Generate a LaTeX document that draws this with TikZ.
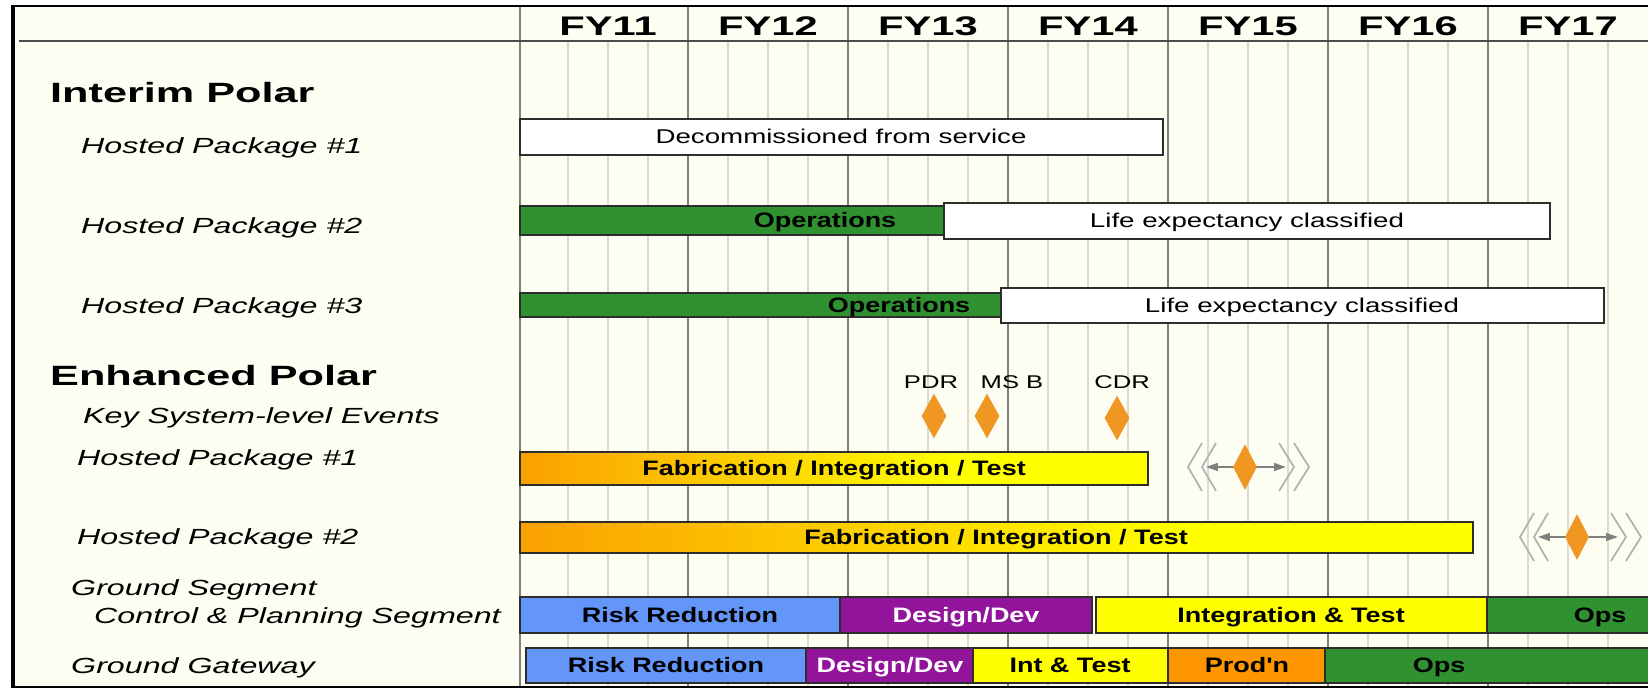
\documentclass[tikz,border=0pt]{standalone}
\usepackage{fontspec}
\setmainfont{Liberation Sans}
\newfontfamily\headfont{Liberation Sans}[FakeStretch=1.55]
\newfontfamily\rowfont{Liberation Sans}[FakeStretch=1.47]
\newfontfamily\barfont{Liberation Sans}[FakeStretch=1.29]
\newfontfamily\plainfont{Liberation Sans}[FakeStretch=1.39]
\usepackage{tikz}
\usetikzlibrary{arrows.meta,shapes.geometric}
\definecolor{chartbg}{RGB}{253,253,241}
\definecolor{gridmajor}{RGB}{128,128,118}
\definecolor{gridminor}{RGB}{220,220,206}
\definecolor{barframe}{RGB}{45,45,45}
\definecolor{opsgreen}{RGB}{48,145,48}
\definecolor{riskblue}{RGB}{100,150,250}
\definecolor{devpurple}{RGB}{145,20,155}
\definecolor{testyellow}{RGB}{255,255,0}
\definecolor{prodorange}{RGB}{255,150,0}
\definecolor{faborange}{RGB}{250,160,0}
\definecolor{mileorange}{RGB}{240,150,35}
\definecolor{slipgray}{RGB}{150,150,150}
\pgfdeclarehorizontalshading{fabshade}{100bp}{color(0bp)=(faborange); color(25bp)=(faborange);
  color(60bp)=(testyellow); color(100bp)=(testyellow)}
\tikzset{
  gbar/.style   ={draw=barframe, line width=1.4pt},
  gwhite/.style ={gbar, fill=white},
  gops/.style   ={gbar, fill=opsgreen},
  grisk/.style  ={gbar, fill=riskblue},
  gdev/.style   ={gbar, fill=devpurple},
  gtest/.style  ={gbar, fill=testyellow},
  gprod/.style  ={gbar, fill=prodorange},
  gfab/.style   ={gbar, shading=fabshade},
  gmajor/.style ={gridmajor, line width=1.6pt},
  gminor/.style ={gridminor, line width=1.2pt},
  headrule/.style={black!70, line width=1.8pt},
  chartframe/.style={black, line width=2.6pt},
  bartext/.style ={font=\barfont\bfseries\fontsize{21}{24}\selectfont, inner sep=0pt,
                   text height=15pt, text depth=0pt},
  devtext/.style ={bartext, text=white},
  plaintext/.style={font=\plainfont\fontsize{20}{24}\selectfont, inner sep=0pt,
                   text height=14pt, text depth=0pt},
  miletext/.style={font=\plainfont\fontsize{18.5}{22}\selectfont, inner sep=0pt,
                   text height=13pt, text depth=0pt},
  yeartext/.style={font=\headfont\bfseries\fontsize{27}{30}\selectfont, anchor=base, inner sep=0pt},
  grouptext/.style={font=\headfont\bfseries\fontsize{28}{32}\selectfont, anchor=base west, inner sep=0pt},
  rowtext/.style ={font=\rowfont\itshape\fontsize{22}{26}\selectfont, anchor=base west, inner sep=0pt},
  milestone/.style={diamond, fill=mileorange, draw=none, inner sep=0pt, aspect=0.55,
                    minimum width=25pt, minimum height=45pt},
  slipline/.style={slipgray!75, line width=1.7pt},
  sliparrow/.style={slipgray!85!black, line width=1.5pt,
                    {Triangle[length=12pt,width=8pt]}-{Triangle[length=12pt,width=8pt]}},
}
\begin{document}
\begin{tikzpicture}[x=1bp, y=-1bp]
  \useasboundingbox (0,0) rectangle (1648,694);
  \fill[white] (0,0) rectangle (1648,694);
  \fill[chartbg] (13,6) rectangle (1648,687);
  \foreach \yr in {0,...,6}
    \foreach \q in {1,2,3}
      \draw[gminor] ({528+160*\yr+40*\q},41) -- ++(0,646);
  \foreach \x in {520,688,848,1008,1168,1328,1488}
    \draw[gmajor] (\x,6) -- (\x,687);
  \draw[headrule] (19,41) -- (1650,41);
  \draw[chartframe] (1650,6) -- (13,6) -- (13,687) -- (1650,687);
  \draw[chartframe, line width=4pt] (13,5) -- (13,688);
  \foreach \n [count=\i from 0] in {11,...,17}
    \node[yeartext] (fy\n) at ({608+160*\i},36) {FY\n};

  \node[grouptext] (interim)  at (50,103) {Interim Polar};
  \node[rowtext]   (ihpone)   at (81,154) {Hosted Package \#1};
  \node[rowtext]   (ihptwo)   at (81,233) {Hosted Package \#2};
  \node[rowtext]   (ihpthree) at (81,313) {Hosted Package \#3};
  \node[grouptext] (enhanced) at (50,385) {Enhanced Polar};
  \node[rowtext]   (keyevents) at (83,423) {Key System-level Events};
  \node[rowtext]   (ehpone)   at (77,465) {Hosted Package \#1};
  \node[rowtext]   (ehptwo)   at (77,544) {Hosted Package \#2};
  \node[rowtext]   (gseg)     at (71,595) {Ground Segment};
  \node[rowtext]   (cpseg)    at (94,623) {Control \& Planning Segment};
  \node[rowtext]   (ggate)    at (71,673) {Ground Gateway};

  \draw[gwhite] (520,119) rectangle (1163,155);
  \node[plaintext] (decom) at (841,137) {Decommissioned from service};
  \draw[gops] (520,206) rectangle (944,235);
  \node[bartext] (opstwo) at (825,220.5) {Operations};
  \draw[gwhite] (944,203) rectangle (1550,239);
  \node[plaintext] (lifetwo) at (1247,221) {Life expectancy classified};
  \draw[gops] (520,293) rectangle (1001,317);
  \node[bartext] (opsthree) at (899,305) {Operations};
  \draw[gwhite] (1001,288) rectangle (1604,323);
  \node[plaintext] (lifethree) at (1302,305.5) {Life expectancy classified};

  \foreach \nm/\x/\y/\lx/\txt in {pdr/934/416/931/PDR, msb/987/416/1012/MS B, cdr/1117/418/1122/CDR} {
    \node[milestone] (\nm) at (\x,\y) {};
    \node[miletext] (\nm lbl) at (\lx,382) {\txt};
  }

  \draw[gfab] (520,452) rectangle (1148,485);
  \node[bartext] (fabone) at (834,468.5) {Fabrication / Integration / Test};
  \draw[gfab] (520,522) rectangle (1473,553);
  \node[bartext] (fabtwo) at (996,537.5) {Fabrication / Integration / Test};
  \foreach \nm/\cx/\cy in {slipone/1245/467, sliptwo/1577/537} {
    \begin{scope}[shift={(\cx,\cy)}]
      \draw[sliparrow] (-39,0) -- (41,0);
      \node[milestone, minimum width=24pt, minimum height=46pt] (\nm) at (0,0) {};
      \draw[slipline] (-43,-24) -- (-57,0) -- (-43,24);
      \draw[slipline] (-29,-24) -- (-43,0) -- (-29,24);
      \draw[slipline] (34,-24) -- (49,0) -- (34,24);
      \draw[slipline] (49,-24) -- (64,0) -- (49,24);
    \end{scope}
  }

  \draw[grisk] (520,597) rectangle (840,633);
  \node[bartext] (cprisk) at (680,615) {Risk Reduction};
  \draw[gdev] (840,597) rectangle (1092,633);
  \node[devtext] (cpdev) at (966,615) {Design/Dev};
  \draw[gtest] (1096,597) rectangle (1487,633);
  \node[bartext] (cptest) at (1291,615) {Integration \& Test};
  \draw[gops] (1487,597) rectangle (1652,633);
  \node[bartext] (cpops) at (1600,615) {Ops};

  \draw[grisk] (526,648) rectangle (806,683);
  \node[bartext] (ggrisk) at (666,665.5) {Risk Reduction};
  \draw[gdev] (806,648) rectangle (973,683);
  \node[devtext] (ggdev) at (890,665.5) {Design/Dev};
  \draw[gtest] (973,648) rectangle (1168,683);
  \node[bartext] (ggtest) at (1070,665.5) {Int \& Test};
  \draw[gprod] (1168,648) rectangle (1325,683);
  \node[bartext] (ggprod) at (1247,665.5) {Prod'n};
  \draw[gops] (1325,648) rectangle (1652,683);
  \node[bartext] (ggops) at (1439,665.5) {Ops};
\end{tikzpicture}
\end{document}
